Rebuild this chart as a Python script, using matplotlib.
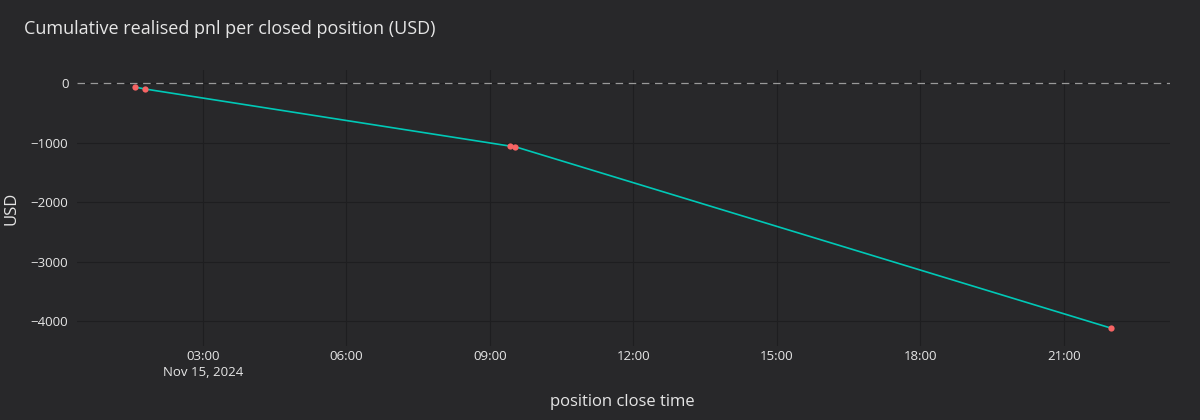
import matplotlib
matplotlib.use("Agg")
import matplotlib.pyplot as plt
import numpy as np
from datetime import datetime

# closed positions: close time and cumulative realised pnl (USD)
close_times = [
    "2024-11-15 01:35",
    "2024-11-15 01:48",
    "2024-11-15 09:25",
    "2024-11-15 09:31",
    "2024-11-15 21:59",
]
cum_pnl = [-67, -100, -1058, -1066, -4118]

y_ticks = [0, -1000, -2000, -3000, -4000]
x_ticks = ["2024-11-15 03:00", "2024-11-15 06:00", "2024-11-15 09:00",
           "2024-11-15 12:00", "2024-11-15 15:00", "2024-11-15 18:00",
           "2024-11-15 21:00"]

BG = "#28282a"
GRID = "#1e1e20"
TXT = "#e6e6e6"

plt.rcParams["font.family"] = ["Open Sans", "DejaVu Sans"]

t = [datetime.strptime(s, "%Y-%m-%d %H:%M") for s in close_times]
xt = [datetime.strptime(s, "%Y-%m-%d %H:%M") for s in x_ticks]

fig = plt.figure(figsize=(12, 4.2), dpi=100, facecolor=BG)
ax = fig.add_axes([0.064, 0.176, 0.911, 0.657], facecolor=BG)

ax.plot(t, cum_pnl, color="#00c9b7", linewidth=1.2, zorder=3)
ax.plot(t, cum_pnl, "o", color="#f76464", markersize=4.5, zorder=4,
        markeredgewidth=0)
ax.axhline(0, color="#9a9a9a", linestyle=(0, (6, 4.5)), linewidth=0.9, zorder=2)

ax.set_xlim(datetime(2024, 11, 15, 0, 22), datetime(2024, 11, 15, 23, 13))
ax.set_ylim(-4420, 218)
ax.set_xticks(xt)
labels = [d.strftime("%H:%M") for d in xt]
labels[0] = labels[0] + "\nNov 15, 2024"
ax.set_xticklabels(labels, linespacing=1.3)
ax.set_yticks(y_ticks)
ax.set_yticklabels([str(v).replace("-", "\u2212") for v in y_ticks])

ax.grid(True, color=GRID, linewidth=0.8, zorder=0)
ax.set_axisbelow(True)
for s in ax.spines.values():
    s.set_visible(False)
ax.tick_params(colors=TXT, labelsize=9.5, length=0)
ax.tick_params(axis="x", pad=3)
ax.tick_params(axis="y", pad=6)

fig.text(0.519, 1 - 402 / 420, "position close time", color=TXT, fontsize=12,
         ha="center", va="center")
ax.set_ylabel("USD", color=TXT, fontsize=12, labelpad=8)

fig.text(0.02, 0.93, "Cumulative realised pnl per closed position (USD)",
         color=TXT, fontsize=13, ha="left", va="center")

fig.savefig("out.png", dpi=100, facecolor=BG)
